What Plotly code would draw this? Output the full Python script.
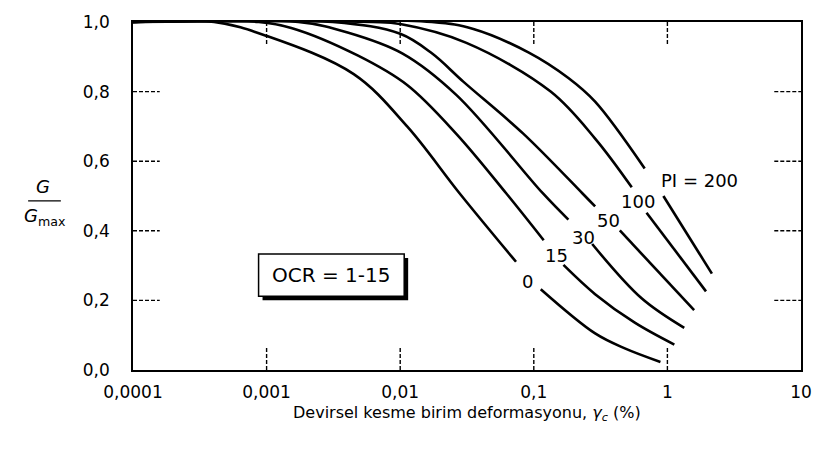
import math
import plotly.graph_objects as go

# Cyclic shear strain (%) and modulus reduction G/Gmax for each plasticity index.
# None marks the break in each curve where its label sits.
pi_labels = ["0", "15", "30", "50", "100", "PI = 200"]

strain_pi0 = [0.0001, 0.000405, 0.001, 0.00449, 0.01127, 0.0278, 0.0736, None, 0.1127, 0.2877, 0.48, 0.887]
ratio_pi0 = [1.0, 1.0, 0.96, 0.85, 0.70, 0.508, 0.311, None, 0.232, 0.105, 0.062, 0.023]

strain_pi15 = [0.0001, 0.000873, 0.00153, 0.0048, 0.01127, 0.0264, 0.0621, 0.1186, None, 0.1667, 0.2877, 0.57, 1.127]
ratio_pi15 = [1.0, 1.0, 0.983, 0.904, 0.819, 0.678, 0.508, 0.373, None, 0.302, 0.218, 0.136, 0.073]

strain_pi30 = [0.0001, 0.00173, 0.00404, 0.01035, 0.0264, 0.1167, 0.1815, None, 0.2735, 0.641, 1.337]
ratio_pi30 = [1.0, 1.0, 0.97, 0.91, 0.79, 0.508, 0.432, None, 0.362, 0.206, 0.121]

strain_pi50 = [0.0001, 0.00313, 0.01, 0.01726, 0.0298, 0.083, 0.2307, 0.2877, None, 0.4406, 1.585]
ratio_pi50 = [1.0, 1.0, 0.966, 0.91, 0.828, 0.68, 0.508, 0.47, None, 0.401, 0.172]

strain_pi100 = [0.0001, 0.0062, 0.01, 0.0313, 0.1337, 0.2877, 0.541, None, 0.698, 1.945]
ratio_pi100 = [1.0, 1.0, 0.994, 0.94, 0.80, 0.665, 0.525, None, 0.452, 0.226]

strain_pi200 = [0.0001, 0.01726, 0.0353, 0.0918, 0.1815, 0.2877, 0.676, None, 0.933, 2.153]
ratio_pi200 = [1.0, 1.0, 0.98, 0.912, 0.839, 0.771, 0.579, None, 0.5, 0.277]

# Label anchor points (strain %, G/Gmax)
label_strain = [0.0904, 0.148, 0.234, 0.36, 0.6, 1.75]
label_ratio = [0.254, 0.328, 0.381, 0.429, 0.483, 0.545]

x_tick_vals = [0.0001, 0.001, 0.01, 0.1, 1, 10]
x_tick_text = ["0,0001", "0,001", "0,01", "0,1", "1", "10"]
y_tick_vals = [0.0, 0.2, 0.4, 0.6, 0.8, 1.0]
y_tick_text = ["0,0", "0,2", "0,4", "0,6", "0,8", "1,0"]

FONT = "DejaVu Sans"

curves = [
    (strain_pi0, ratio_pi0),
    (strain_pi15, ratio_pi15),
    (strain_pi30, ratio_pi30),
    (strain_pi50, ratio_pi50),
    (strain_pi100, ratio_pi100),
    (strain_pi200, ratio_pi200),
]

fig = go.Figure()

for xs, ys in curves:
    fig.add_trace(go.Scatter(
        x=xs, y=ys, mode="lines",
        line=dict(color="black", width=2.6, shape="spline", smoothing=1.0),
        connectgaps=False, hoverinfo="skip", showlegend=False,
    ))

# Dashed inner tick marks along all four sides
dash_style = dict(color="black", width=1.4, dash="4px,2px")
for xv in x_tick_vals[1:-1]:
    fig.add_trace(go.Scatter(x=[xv, xv], y=[0, 0.065], mode="lines", line=dash_style,
                             hoverinfo="skip", showlegend=False))
    fig.add_trace(go.Scatter(x=[xv, xv], y=[1, 0.935], mode="lines", line=dash_style,
                             hoverinfo="skip", showlegend=False))
for yv in y_tick_vals[1:-1]:
    fig.add_trace(go.Scatter(x=[0.0001, 0.0001 * 10 ** 0.2], y=[yv, yv], mode="lines",
                             line=dash_style, hoverinfo="skip", showlegend=False))
    fig.add_trace(go.Scatter(x=[10 ** 0.8, 10], y=[yv, yv], mode="lines",
                             line=dash_style, hoverinfo="skip", showlegend=False))

# Curve labels
for txt, lx, ly in zip(pi_labels, label_strain, label_ratio):
    fig.add_annotation(x=math.log10(lx), y=ly, text=txt, showarrow=False,
                       font=dict(family=FONT, size=18, color="black"),
                       xanchor="center", yanchor="middle")

# OCR box with drop shadow
bx0, bx1, by0, by1 = 0.188, 0.406, 0.212, 0.333
sx, sy = 4 / 675, 4 / 354
fig.add_shape(type="rect", xref="paper", yref="paper",
              x0=bx0 + sx, x1=bx1 + sx, y0=by0 - sy, y1=by1 - sy,
              fillcolor="black", line=dict(width=0))
fig.add_shape(type="rect", xref="paper", yref="paper",
              x0=bx0, x1=bx1, y0=by0, y1=by1,
              fillcolor="white", line=dict(color="black", width=1.5))
fig.add_annotation(xref="paper", yref="paper", x=(bx0 + bx1) / 2, y=(by0 + by1) / 2,
                   xanchor="center", yanchor="middle",
                   text="OCR = 1-15", showarrow=False,
                   font=dict(family=FONT, size=20, color="black"))

# Y-axis title as a fraction G / Gmax
fig.add_annotation(xref="paper", yref="paper", x=-0.135, y=0.528, text="<i>G</i>",
                   xanchor="center", yanchor="middle",
                   showarrow=False, font=dict(family=FONT, size=18, color="black"))
fig.add_shape(type="line", xref="paper", yref="paper", x0=-0.157, x1=-0.108,
              y0=0.486, y1=0.486, line=dict(color="black", width=1.3))
fig.add_annotation(xref="paper", yref="paper", x=-0.131, y=0.44,
                   xanchor="center", yanchor="middle",
                   text="<i>G</i><sub>max</sub>", showarrow=False,
                   font=dict(family=FONT, size=18, color="black"))

# X-axis title
fig.add_annotation(xref="paper", yref="paper", x=0.5, y=-0.125,
                   xanchor="center", yanchor="middle",
                   text="Devirsel kesme birim deformasyonu, <i>γ<sub>c</sub></i> (%)",
                   showarrow=False, font=dict(family=FONT, size=16, color="black"))

fig.update_xaxes(type="log", range=[-4, 1], tickvals=x_tick_vals, ticktext=x_tick_text,
                 showline=True, mirror=True, linecolor="black", linewidth=1.5,
                 showgrid=False, zeroline=False, ticks="", ticklabelstandoff=6,
                 tickfont=dict(family=FONT, size=17, color="black"))
fig.update_yaxes(range=[0, 1], tickvals=y_tick_vals, ticktext=y_tick_text,
                 showline=True, mirror=True, linecolor="black", linewidth=1.5,
                 showgrid=False, zeroline=False, ticks="", ticklabelstandoff=18,
                 tickfont=dict(family=FONT, size=17, color="black"))

fig.update_layout(
    width=824, height=452,
    margin=dict(l=133, r=16, t=16, b=82),
    paper_bgcolor="white", plot_bgcolor="white",
    showlegend=False,
)

fig.write_html("out.html")
